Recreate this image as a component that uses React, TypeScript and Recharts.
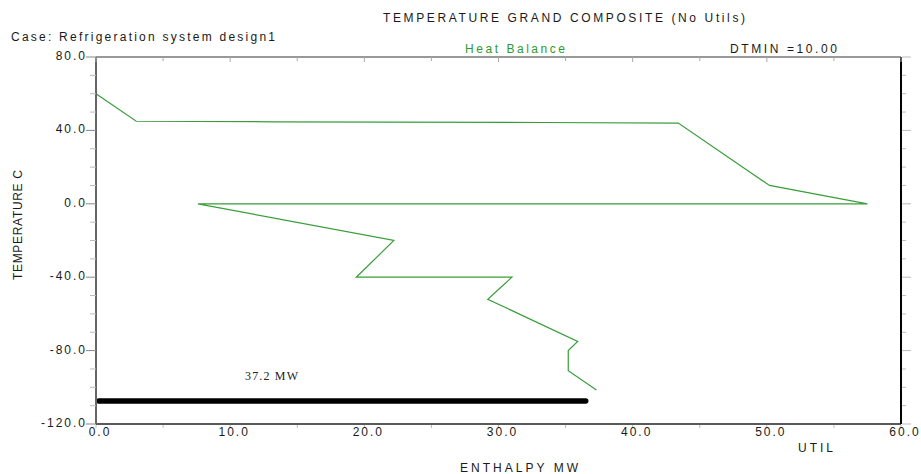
import React from 'react';
import { LineChart, Line, XAxis, YAxis } from 'recharts';

// Grand composite curve (enthalpy MW, temperature C), in drawing order
const curveEnthalpy = [0, 3.0, 13.2, 33.3, 43.4, 50.2, 57.5, 7.6, 22.2, 19.4, 31.0, 30.1, 29.2, 35.9, 35.2, 35.2, 37.3];
const curveTemperature = [60, 45, 44.7, 44.3, 44, 10, 0, 0, -20, -40, -40, -46, -52, -75, -80, -91, -101.5];

// Utility bar
const utilEnthalpy = [0.2, 36.5];
const utilTemperature = [-107.5, -107.5];

const xTicks = [0, 5, 10, 15, 20, 25, 30, 35, 40, 45, 50, 55, 60];
const yTicks = [-120, -110, -100, -90, -80, -70, -60, -50, -40, -30, -20, -10, 0, 10, 20, 30, 40, 50, 60, 70, 80];
const xLabelStep = 10;
const yLabelStep = 40;

const curveData = curveEnthalpy.map((x, i) => ({ x, t: curveTemperature[i] }));
const utilData = utilEnthalpy.map((x, i) => ({ x, t: utilTemperature[i] }));

const FONT = '"Liberation Sans", Arial, sans-serif';
const TXT = '#1a1a1a';

const fmt = (v: number) => v.toFixed(1);

const LeftTick = (props: any) => {
  const { x, y, payload } = props;
  const major = payload.value % yLabelStep === 0;
  return (
    <g>
      <line x1={x - (major ? 10 : 6)} x2={x} y1={y} y2={y} stroke={major ? '#888' : '#bbb'} strokeWidth={1} />
      {major && (
        <text x={x - 9} y={y + 3} textAnchor="end" fontFamily={FONT} fontSize={12} letterSpacing={2} fill={TXT}>
          {fmt(payload.value)}
        </text>
      )}
    </g>
  );
};

const RightTick = (props: any) => {
  const { x, y, payload } = props;
  const major = payload.value % yLabelStep === 0;
  return <line x1={x + 1} x2={x + (major ? 10 : 5)} y1={y} y2={y} stroke="#bbb" strokeWidth={1} />;
};

const BottomTick = (props: any) => {
  const { x, y, payload } = props;
  const major = payload.value % xLabelStep === 0;
  return (
    <g>
      <line x1={x} x2={x} y1={y + 1} y2={y + 4} stroke="#bbb" strokeWidth={1} />
      {major && (
        <text x={x + 4} y={y + 12} textAnchor="middle" fontFamily={FONT} fontSize={12} letterSpacing={2} fill={TXT}>
          {fmt(payload.value)}
        </text>
      )}
    </g>
  );
};

const TopTick = (props: any) => {
  const { x, y, payload } = props;
  const major = payload.value % xLabelStep === 0;
  return <line x1={x} x2={x} y1={y} y2={y + (major ? 5 : 4)} stroke="#aaa" strokeWidth={1} />;
};

export default function App() {
  return (
    <div style={{ position: 'absolute', left: 0, top: 0, width: 921, height: 474, background: '#fff' }}>
      <LineChart width={921} height={474} margin={{ top: 56, right: 19, bottom: 49, left: 95 }}>
        <XAxis
          dataKey="x"
          type="number"
          domain={[0, 60]}
          ticks={xTicks}
          interval={0}
          height={1}
          tickSize={0}
          tickMargin={0}
          tickLine={false}
          tick={BottomTick}
          axisLine={{ stroke: '#222', strokeWidth: 1.5 }}
          allowDataOverflow
        />
        <XAxis
          xAxisId="top"
          orientation="top"
          dataKey="x"
          type="number"
          domain={[0, 60]}
          ticks={xTicks}
          interval={0}
          height={1}
          tickSize={0}
          tickMargin={0}
          tickLine={false}
          tick={TopTick}
          axisLine={{ stroke: '#777', strokeWidth: 1.5 }}
          allowDataOverflow
        />
        <YAxis
          dataKey="t"
          type="number"
          domain={[-120, 80]}
          ticks={yTicks}
          interval={0}
          width={1}
          tickSize={0}
          tickMargin={0}
          tickLine={false}
          tick={LeftTick}
          axisLine={{ stroke: '#666', strokeWidth: 2 }}
          allowDataOverflow
        />
        <YAxis
          yAxisId="right"
          orientation="right"
          dataKey="t"
          type="number"
          domain={[-120, 80]}
          ticks={yTicks}
          interval={0}
          width={1}
          tickSize={0}
          tickMargin={0}
          tickLine={false}
          tick={RightTick}
          axisLine={{ stroke: '#000', strokeWidth: 2 }}
          allowDataOverflow
        />
        <Line
          data={utilData}
          dataKey="t"
          type="linear"
          stroke="#000"
          strokeWidth={5.5}
          strokeLinecap="round"
          dot={false}
          activeDot={false}
          isAnimationActive={false}
        />
        <Line
          data={curveData}
          dataKey="t"
          type="linear"
          stroke="#3a9d3a"
          strokeWidth={1.2}
          dot={false}
          activeDot={false}
          isAnimationActive={false}
        />
        <Line
          data={curveData}
          dataKey="t"
          xAxisId="top"
          yAxisId="right"
          type="linear"
          stroke="none"
          strokeWidth={0}
          dot={false}
          activeDot={false}
          legendType="none"
          isAnimationActive={false}
        />
      </LineChart>
      <svg width={921} height={474} style={{ position: 'absolute', left: 0, top: 0, pointerEvents: 'none' }}>
        <g fontFamily={FONT} fontSize={12} fill={TXT}>
          <text x={383} y={22} textLength={362} lengthAdjust="spacing">TEMPERATURE GRAND COMPOSITE (No Utils)</text>
          <text x={11} y={41} textLength={264} lengthAdjust="spacing">Case: Refrigeration system design1</text>
          <text x={465} y={53} textLength={100} lengthAdjust="spacing" fill="#2e9a2e">Heat Balance</text>
          <text x={730} y={53} textLength={107} lengthAdjust="spacing">DTMIN =10.00</text>
          <text x={798} y={452} textLength={35} lengthAdjust="spacing">UTIL</text>
          <text x={460} y={472} textLength={118} lengthAdjust="spacing">ENTHALPY MW</text>
          <text x={0} y={0} textLength={110} lengthAdjust="spacing" transform="translate(22 280) rotate(-90)">TEMPERATURE C</text>
        </g>
        <text x={245} y={380} fontFamily='"Liberation Serif", "DejaVu Serif", serif' fontSize={12} fill="#222" textLength={53} lengthAdjust="spacing">37.2 MW</text>
      </svg>
    </div>
  );
}
